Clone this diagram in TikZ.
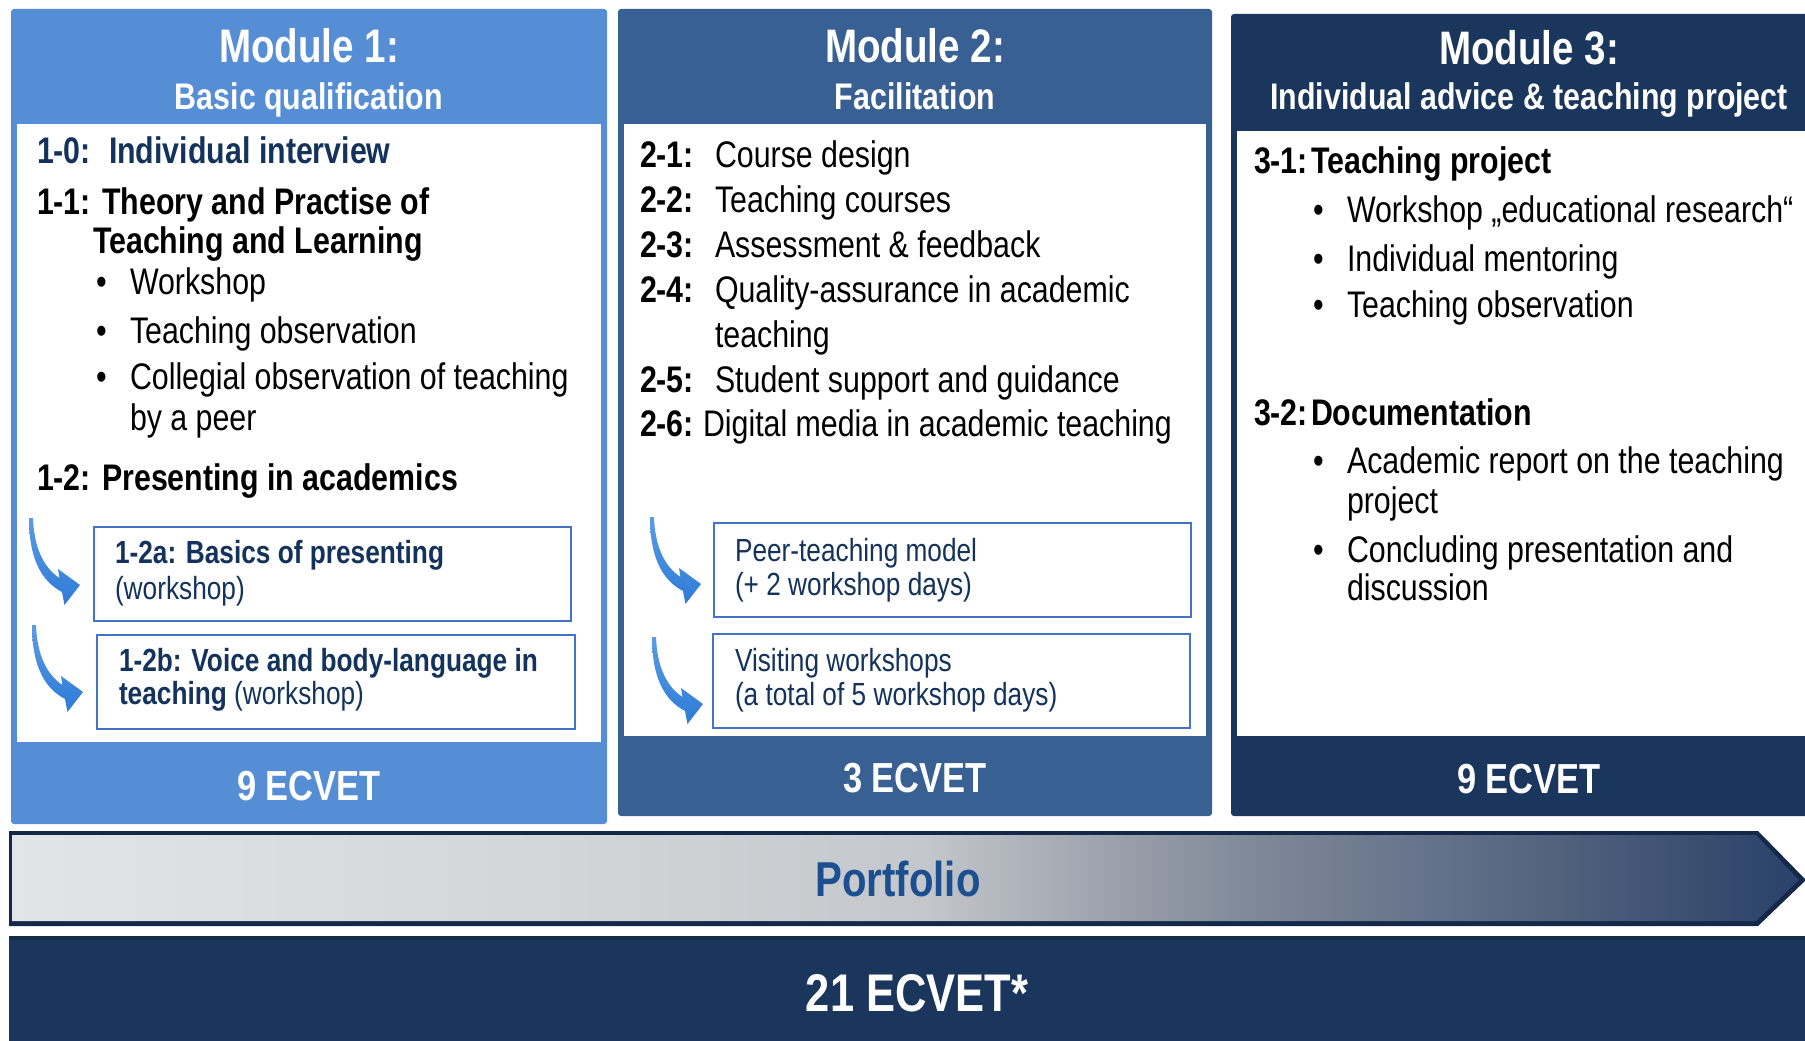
\documentclass[tikz,border=0pt]{standalone}
\usepackage{fontspec}
\setmainfont{Liberation Sans}[FakeStretch=0.82]
\usetikzlibrary{calc}
\definecolor{mone}{HTML}{558ED5}
\definecolor{mtwo}{HTML}{386092}
\definecolor{mthree}{HTML}{1A365D}
\definecolor{navytext}{HTML}{14335C}
\definecolor{subborder}{HTML}{4472C4}
\definecolor{arrowblue}{HTML}{2E7BD6}
\definecolor{arrowlight}{HTML}{5C9BE6}
\definecolor{arrowdark}{HTML}{14294A}
\definecolor{portblue}{HTML}{1B4F8F}
\definecolor{bardark}{HTML}{142B4A}
\definecolor{pa}{HTML}{E2E5E8}
\definecolor{pb}{HTML}{D2D5D8}
\definecolor{pc}{HTML}{C4C7CB}
\definecolor{pd}{HTML}{ABB0B8}
\definecolor{pe}{HTML}{939AA6}
\definecolor{pf}{HTML}{7D8797}
\definecolor{pg}{HTML}{5B6A84}
\definecolor{ph}{HTML}{354A6D}
\definecolor{pi}{HTML}{2A416A}
\pgfdeclarehorizontalshading{portshade}{100bp}{color(0bp)=(pa); color(25bp)=(pa); color(40.8bp)=(pb); color(50.5bp)=(pc); color(53.7bp)=(pd); color(56.9bp)=(pe); color(60bp)=(pf); color(66.5bp)=(pg); color(73bp)=(ph); color(75bp)=(pi); color(100bp)=(pi)}
\newcommand{\fsz}[1]{\fontsize{#1}{#1}\selectfont}
\tikzset{
  txt/.style={inner sep=0pt, outer sep=0pt, anchor=base west},
  body/.style={txt, font=\fsz{37}, text=black},
  bodyb/.style={txt, font=\fsz{37}\bfseries, text=black},
  navyb/.style={txt, font=\fsz{37}\bfseries, text=navytext},
  subt/.style={txt, font=\fsz{32}, text=navytext},
  subtb/.style={txt, font=\fsz{32}\bfseries, text=navytext},
  hdr/.style={inner sep=0pt, anchor=base, text=white, font=\fsz{47}\bfseries},
  hdrsub/.style={inner sep=0pt, anchor=base, text=white, font=\fsz{37}\bfseries},
  ects/.style={inner sep=0pt, anchor=base, text=white, font=\fsz{42}\bfseries},
  subbox/.style={draw=subborder, line width=2pt, fill=white},
  curvearrow/.pic={\shade[top color=arrowlight, bottom color=arrowblue] (0,0) .. controls (0,40) and (12,63) .. (33,74) -- (35.5,87) -- (51,67) -- (29,51) -- (30.5,60) .. controls (15,50) and (5,30) .. (4,0) -- cycle;}
}
\begin{document}
\begin{tikzpicture}[x=1pt,y=-1pt]
\useasboundingbox (0,0) rectangle (1805,1041);
\clip (0,0) rectangle (1805,1041);
\fill[white] (0,0) rectangle (1805,1041);
% Module boxes
\fill[mone, rounded corners=3pt] (11,9) rectangle (607,824);
\fill[white] (17,124) rectangle (601,742);
\fill[mtwo, rounded corners=3pt] (618,9) rectangle (1212,816);
\fill[white] (624,124) rectangle (1206,736);
\fill[mthree, rounded corners=3pt] (1231,14) rectangle (1830,816);
\fill[white] (1237,131) rectangle (1830,736);
% Headers
\node[hdr] (h1) at (309,63) {Module 1:};
\node[hdrsub] (h1s) at (309,109) {Basic qualification};
\node[hdr] (h2) at (915,63) {Module 2:};
\node[hdrsub] (h2s) at (915,109) {Facilitation};
\node[hdr] (h3) at (1529,65) {Module 3:};
\node[hdrsub] (h3s) at (1529,110) {Individual advice \& teaching project};
% Module 1 content
\node[navyb] (a0) at (37,163) {1-0:};
\node[navyb] (a0t) at (109,163) {Individual interview};
\node[bodyb] (a1) at (37,214) {1-1: Theory and Practise of};
\node[bodyb] (a1b) at (93,253) {Teaching and Learning};
\node[body] (b1) at (96,294) {•};
\node[body] (b1t) at (130,294) {Workshop};
\node[body] (b2) at (96,343) {•};
\node[body] (b2t) at (130,343) {Teaching observation};
\node[body] (b3) at (96,389) {•};
\node[body] (b3t) at (130,389) {Collegial observation of teaching};
\node[body] (b3u) at (130,430) {by a peer};
\node[bodyb] (a2) at (37,490) {1-2: Presenting in academics};
\fill[subbox] (94,527) rectangle (571,621);
\node[subtb] (s1) at (115,563) {1-2a: Basics of presenting};
\node[subt] (s1b) at (115,599) {(workshop)};
\fill[subbox] (97,635) rectangle (575,729);
\node[subtb] (s2) at (119,671) {1-2b: Voice and body-language in};
\node[subt] (s2b) at (119,704) {\textbf{teaching} (workshop)};
\pic at (29,518) {curvearrow};
\pic at (32,625) {curvearrow};
% Module 2 content
\node[bodyb] (c1) at (640,167) {2-1:};
\node[body] (c1t) at (715,167) {Course design};
\node[bodyb] (c2) at (640,212) {2-2:};
\node[body] (c2t) at (715,212) {Teaching courses};
\node[bodyb] (c3) at (640,257) {2-3:};
\node[body] (c3t) at (715,257) {Assessment \& feedback};
\node[bodyb] (c4) at (640,302) {2-4:};
\node[body] (c4t) at (715,302) {Quality-assurance in academic};
\node[body] (c4u) at (715,347) {teaching};
\node[bodyb] (c5) at (640,392) {2-5:};
\node[body] (c5t) at (715,392) {Student support and guidance};
\node[bodyb] (c6) at (640,436) {2-6:};
\node[body] (c6t) at (703,436) {Digital media in academic teaching};
\fill[subbox] (714,523) rectangle (1191,617);
\node[subt] (p1) at (735,561) {Peer-teaching model};
\node[subt] (p1b) at (735,595) {(+ 2 workshop days)};
\fill[subbox] (713,634) rectangle (1190,728);
\node[subt] (p2) at (735,671) {Visiting workshops};
\node[subt] (p2b) at (735,705) {(a total of 5 workshop days)};
\pic at (650,517) {curvearrow};
\pic at (652,637) {curvearrow};
% Module 3 content
\node[bodyb] (d1) at (1254,173) {3-1:};
\node[bodyb] (d1t) at (1311,173) {Teaching project};
\node[body] (e1) at (1313,222) {•};
\node[body] (e1t) at (1347,222) {Workshop „educational research“};
\node[body] (e2) at (1313,271) {•};
\node[body] (e2t) at (1347,271) {Individual mentoring};
\node[body] (e3) at (1313,317) {•};
\node[body] (e3t) at (1347,317) {Teaching observation};
\node[bodyb] (d2) at (1254,425) {3-2:};
\node[bodyb] (d2t) at (1311,425) {Documentation};
\node[body] (e4) at (1313,473) {•};
\node[body] (e4t) at (1347,473) {Academic report on the teaching};
\node[body] (e4u) at (1347,513) {project};
\node[body] (e5) at (1313,562) {•};
\node[body] (e5t) at (1347,562) {Concluding presentation and};
\node[body] (e5u) at (1347,600) {discussion};
% ECVET
\node[ects] (k1) at (309,800) {9 ECVET};
\node[ects] (k2) at (915,792) {3 ECVET};
\node[ects] (k3) at (1529,793) {9 ECVET};
% Portfolio arrow
\fill[arrowdark] (9,831) -- (1758,831) -- (1806,880) -- (1758,926) -- (9,926) -- cycle;
\shade[shading=portshade] (12,835) -- (1756,835) -- (1799,880) -- (1756,921) -- (12,921) -- cycle;
\node[inner sep=0pt, anchor=base, text=portblue, font=\fsz{49}\bfseries] (port) at (898,896) {Portfolio};
% Total bar
\fill[mthree] (9,936) rectangle (1830,1060);
\fill[bardark] (9,936) rectangle (1830,940);
\node[inner sep=0pt, anchor=base, text=white, font=\fsz{53}\bfseries] (tot) at (917,1011) {21 ECVET*};
\end{tikzpicture}
\end{document}
